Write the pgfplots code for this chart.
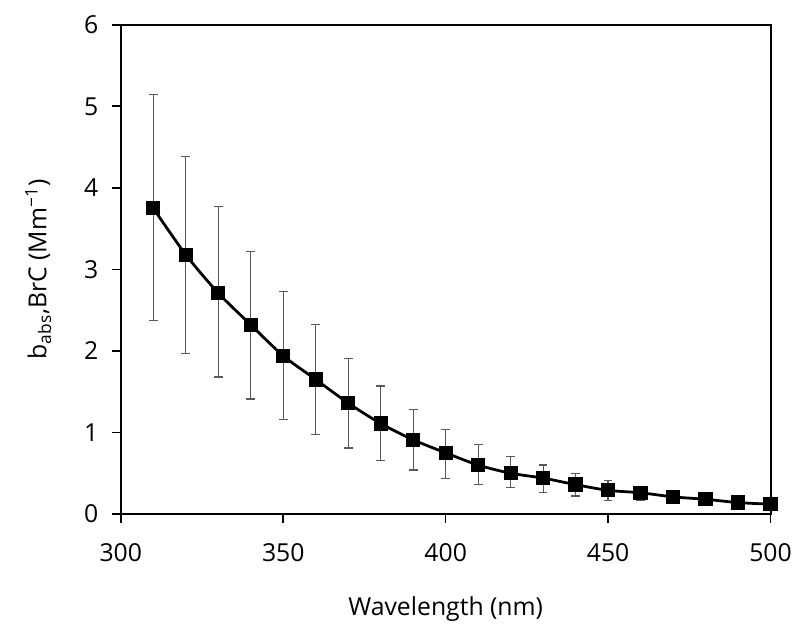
\documentclass[border=0pt]{standalone}
\usepackage{pgfplots}
\pgfplotsset{compat=1.18}
\usepackage{fontspec}
\setmainfont{Open Sans}
\begin{document}
\fontsize{12.5}{15}\selectfont
\begin{tikzpicture}
\begin{axis}[
  scale only axis,
  width=328pt, height=247pt,
  xmin=300, xmax=500, ymin=0, ymax=6,
  xtick={300,350,...,500}, ytick={0,1,...,6},
  xtick pos=left, ytick pos=left,
  tick align=outside, major tick length=4.5pt,
  axis line style={line width=1pt},
  every tick/.style={line width=0.8pt, black},
  /pgf/number format/assume math mode=true,
  ticklabel style={font=\fontsize{12.5}{15}\selectfont},
  xticklabel style={yshift=-6pt},
  yticklabel style={xshift=-2.5pt},
  label style={font=\fontsize{12.5}{15}\selectfont},
  xlabel={Wavelength (nm)},
  ylabel={b\textsubscript{abs},BrC (Mm\textsuperscript{−1})},
  xlabel style={yshift=-9pt},
  ylabel style={yshift=8pt},
]
\addplot[
  black, line width=1.4pt, smooth,
  mark=square*, mark size=2.9pt, mark options={solid},
  error bars/.cd, y dir=both, y explicit,
  error bar style={black!65, line width=0.6pt},
  error mark options={rotate=90, mark size=2.2pt, black!65, line width=0.6pt},
] table[x=x, y=y, y error plus=ep, y error minus=em] {
x   y    ep    em
310 3.75 1.39 1.38
320 3.18 1.20 1.21
330 2.71 1.06 1.03
340 2.32 0.90 0.91
350 1.94 0.79 0.78
360 1.65 0.67 0.68
370 1.36 0.55 0.55
380 1.11 0.46 0.45
390 0.91 0.37 0.37
400 0.75 0.29 0.31
410 0.60 0.25 0.24
420 0.50 0.20 0.18
430 0.44 0.16 0.18
440 0.36 0.14 0.14
450 0.29 0.12 0.12
460 0.26 0.06 0.09
470 0.21 0 0
480 0.18 0 0
490 0.14 0 0
500 0.12 0 0
};
\end{axis}
\path (current axis.south west) ++(-61pt,-56pt) coordinate (bl);
\path (current axis.north east) ++(11pt,12.5pt) coordinate (tr);
\useasboundingbox (bl) rectangle (tr);
\end{tikzpicture}
\end{document}
